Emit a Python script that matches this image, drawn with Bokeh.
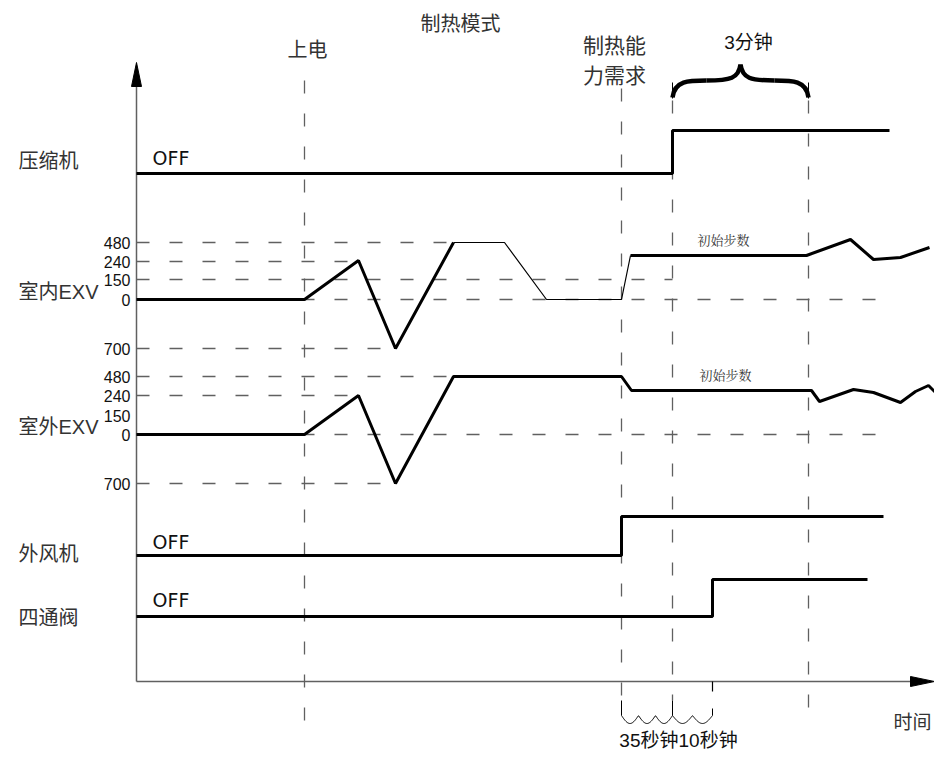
import numpy as np
from bokeh.plotting import figure
from bokeh.models import Range1d
from bokeh.core.properties import value
from bokeh.embed import file_html
from bokeh.resources import INLINE

# ---------------- data (schematic coordinates) ----------------
# event times
t_axis = 136
t_power = 304
t_demand = 621
t_comp = 672
t_4way = 712
t_3min = 808

row_labels = ["压缩机", "室内EXV", "室外EXV", "外风机", "四通阀"]
row_label_y = [160, 291, 426, 553, 617]

# compressor
comp_x = [136, 672, 672, 889]
comp_y = [173, 173, 130, 130]

# indoor EXV
in_tick_labels = ["480", "240", "150", "0", "700"]
in_tick_y = [242, 261, 279, 299, 348]
in_grid_end = [453, 358, 672, 888, 395]
in_thick1_x = [136, 304, 358, 395, 453]
in_thick1_y = [299, 299, 260, 348, 242]
in_thin_x = [453, 504, 546, 621, 630]
in_thin_y = [242, 242, 299, 299, 255]
in_thick2_x = [630, 806, 850, 873, 900, 929]
in_thick2_y = [255, 255, 239, 259, 257, 247]

# outdoor EXV
out_tick_labels = ["480", "240", "150", "0", "700"]
out_tick_y = [376, 395, 415, 434, 483]
out_grid_y = [376, 395, 434, 483]
out_grid_end = [453, 358, 888, 395]
out_x = [136, 304, 358, 395, 453, 621, 631, 811, 819, 853, 873, 900, 915, 928, 935]
out_y = [434, 434, 395, 483, 376, 376, 390, 390, 401, 389, 392, 402, 391, 385, 392]

# outdoor fan
fan_x = [136, 621, 621, 883]
fan_y = [555, 555, 516, 516]

# four-way valve
valve_x = [136, 712, 712, 867]
valve_y = [616, 616, 579, 579]

off_label_y = [157, 541, 599]

# vertical event lines
vline_x = [t_power, t_demand, t_comp, t_3min]
vline_top = [80, 88, 100, 100]
vline_bot = [720, 700, 700, 716]

axis_y = 681

# ---------------- figure ----------------
p = figure(width=934, height=752, x_range=Range1d(0, 934), y_range=Range1d(752, 0),
           output_backend="svg", toolbar_location=None, min_border=0)
p.axis.visible = False
p.grid.visible = False
p.outline_line_color = None
p.background_fill_color = "white"
p.border_fill_color = "white"

CJK = value("Noto Sans CJK SC")
MIX = value("'Liberation Sans', 'Noto Sans CJK SC'")
GRAY = "#606060"
DASH = "13 20"

# axes
p.segment(x0=[t_axis], y0=[axis_y], x1=[t_axis], y1=[84], line_color=GRAY, line_width=1.5)
p.patch(x=[t_axis - 5, t_axis, t_axis + 5], y=[86, 62, 86], fill_color="black", line_color="black")
p.segment(x0=[t_axis], y0=[axis_y], x1=[912], y1=[axis_y], line_color=GRAY, line_width=1.5)
p.patch(x=[910, 934, 910], y=[axis_y - 5, axis_y, axis_y + 5], fill_color="black", line_color="black")

# vertical dashed event lines
p.segment(x0=vline_x, y0=vline_top, x1=vline_x, y1=vline_bot, line_color=GRAY,
          line_width=1.3, line_dash=DASH)
# tick under axis at four-way valve switch
p.segment(x0=[t_4way], y0=[axis_y], x1=[t_4way], y1=[691], line_color="black", line_width=1.2)

# horizontal dashed level lines
p.segment(x0=[t_axis] * len(in_tick_y), y0=in_tick_y, x1=in_grid_end, y1=in_tick_y,
          line_color=GRAY, line_width=1.3, line_dash=DASH)
p.segment(x0=[t_axis] * len(out_grid_y), y0=out_grid_y, x1=out_grid_end, y1=out_grid_y,
          line_color=GRAY, line_width=1.3, line_dash=DASH)

# tick labels
p.text(x=[130] * len(in_tick_y), y=in_tick_y, text=in_tick_labels, text_align="right",
       text_baseline="middle", text_font=value("Liberation Sans"), text_font_size="16px",
       text_color="#111")
p.text(x=[130] * len(out_tick_y), y=out_tick_y, text=out_tick_labels, text_align="right",
       text_baseline="middle", text_font=value("Liberation Sans"), text_font_size="16px",
       text_color="#111")

# traces
p.line(comp_x, comp_y, line_color="black", line_width=3)
p.line(in_thick1_x, in_thick1_y, line_color="black", line_width=3)
p.line(in_thin_x, in_thin_y, line_color="black", line_width=1.2)
p.line(in_thick2_x, in_thick2_y, line_color="black", line_width=3)
p.line(out_x, out_y, line_color="black", line_width=3)
p.line(fan_x, fan_y, line_color="black", line_width=3)
p.line(valve_x, valve_y, line_color="black", line_width=3)

# row labels
p.text(x=[18] * len(row_labels), y=row_label_y, text=row_labels, text_align="left",
       text_baseline="middle", text_font=MIX, text_font_size="20px", text_color="#333")
p.text(x=[152] * 3, y=off_label_y, text=["OFF"] * 3, text_align="left",
       text_baseline="middle", text_font=value("DejaVu Sans"), text_font_size="19px",
       text_color="#111")

# 初始步数
p.text(x=[723, 725], y=[239, 374], text=["初始步数", "初始步数"], text_align="center",
       text_baseline="middle", text_font=value("Noto Serif CJK SC"), text_font_size="13px",
       text_color="#333")

# top annotations
p.text(x=[460], y=[22], text=["制热模式"], text_align="center", text_baseline="middle",
       text_font=CJK, text_font_size="20px", text_color="#333")
p.text(x=[307], y=[48], text=["上电"], text_align="center", text_baseline="middle",
       text_font=CJK, text_font_size="20px", text_color="#333")
p.text(x=[614, 614], y=[43, 73], text=["制热能", "力需求"], text_align="center",
       text_baseline="middle", text_font=CJK, text_font_size="21px", text_color="#333")
p.text(x=[748], y=[42], text=["3分钟"], text_align="center", text_baseline="middle",
       text_font=MIX, text_font_size="19px", text_color="#111")

# curly brace (3 minutes)
mid = (t_comp + t_3min) / 2
p.bezier(x0=[t_comp, mid - 34, t_3min, mid + 34],
         y0=[97, 80, 97, 80],
         x1=[mid - 34, mid, mid + 34, mid],
         y1=[80, 64, 80, 64],
         cx0=[t_comp + 2, mid - 10, t_3min - 2, mid + 10],
         cy0=[80, 80, 80, 80],
         cx1=[t_comp + 16, mid - 2, t_3min - 16, mid + 2],
         cy1=[80, 78, 80, 78],
         line_color="black", line_width=4.5)
p.segment(x0=[t_comp, t_3min], y0=[82, 82], x1=[t_comp, t_3min], y1=[98, 98],
          line_color="black", line_width=1)

# wavy braces at the bottom (35 s and 10 s)
def wave(xa, xb, n):
    u = np.linspace(0, 1, 80)
    xs = xa + (xb - xa) * u
    ys = 715 + 8 * np.abs(np.sin(np.pi * n * u))
    return list(xs), list(ys)

for xa, xb, n in [(t_demand, t_comp, 3), (t_comp, t_4way, 2)]:
    xs, ys = wave(xa, xb, n)
    p.line(xs, ys, line_color="black", line_width=1)
p.segment(x0=[t_demand, t_comp, t_4way], y0=[700, 700, 708], x1=[t_demand, t_comp, t_4way],
          y1=[715, 715, 715], line_color="black", line_width=1)

p.text(x=[678], y=[740], text=["35秒钟10秒钟"], text_align="center", text_baseline="middle",
       text_font=MIX, text_font_size="19px", text_color="#111")
p.text(x=[912], y=[720], text=["时间"], text_align="center", text_baseline="middle",
       text_font=CJK, text_font_size="19px", text_color="#333")

open("out.html", "w").write(file_html(p, INLINE))
